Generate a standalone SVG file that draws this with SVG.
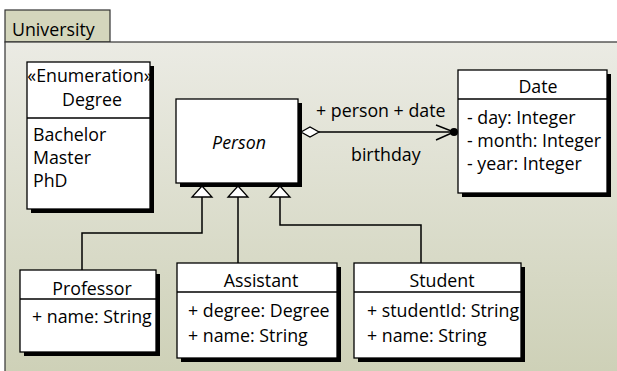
<svg xmlns="http://www.w3.org/2000/svg" width="617" height="371" viewBox="0 0 617 371">
<defs>
<linearGradient id="bg" x1="0" y1="0" x2="0" y2="1">
<stop offset="0" stop-color="#ebebe4"/>
<stop offset="1" stop-color="#cdd0b6"/>
</linearGradient>
</defs>
<style>
text{font-family:"Open Sans","Noto Sans","DejaVu Sans",sans-serif;font-size:17.8px;fill:#000}
.c{text-anchor:middle}
.box{fill:#fff;stroke:#000;stroke-width:1.3}
.sh{fill:#000}
.ln{fill:none;stroke:#000;stroke-width:1.5}
.dv{stroke:#000;stroke-width:1.3}
.tri{fill:#fff;stroke:#000;stroke-width:1.3}
</style>
<g id="package">
<rect x="5" y="10" width="105" height="32" fill="#d4d6bc" stroke="#333" stroke-width="1.2"/>
<rect x="5" y="42" width="620" height="340" fill="url(#bg)" stroke="#333" stroke-width="1.2"/>
<text x="12" y="36">University</text>
</g>
<g id="Degree">
<rect class="sh" x="31" y="66" width="123" height="147"/>
<rect class="box" x="27" y="62" width="123" height="147"/>
<line class="dv" x1="27" y1="118" x2="150" y2="118"/>
<text class="c" x="90" y="82">«Enumeration»</text>
<text class="c" x="92" y="106">Degree</text>
<text x="33" y="141">Bachelor</text>
<text x="33" y="164">Master</text>
<text x="33" y="187">PhD</text>
</g>
<g id="Person">
<rect class="sh" x="180" y="103" width="122" height="84"/>
<rect class="box" x="176" y="99" width="122" height="84"/>
<text class="c" x="239" y="149" font-style="italic">Person</text>
</g>
<g id="Date">
<rect class="sh" x="462" y="74" width="149" height="123"/>
<rect class="box" x="458" y="70" width="149" height="123"/>
<line class="dv" x1="458" y1="99" x2="607" y2="99"/>
<text class="c" x="538" y="93">Date</text>
<text x="467" y="124">- day: Integer</text>
<text x="467" y="147">- month: Integer</text>
<text x="467" y="170">- year: Integer</text>
</g>
<g id="Professor">
<rect class="sh" x="24" y="274" width="136" height="82"/>
<rect class="box" x="20" y="270" width="136" height="82"/>
<line class="dv" x1="20" y1="299" x2="156" y2="299"/>
<text class="c" x="92" y="295">Professor</text>
<text x="32" y="323">+ name: String</text>
</g>
<g id="Assistant">
<rect class="sh" x="181" y="267" width="160" height="95"/>
<rect class="box" x="177" y="263" width="160" height="95"/>
<line class="dv" x1="177" y1="292" x2="337" y2="292"/>
<text class="c" x="261" y="287">Assistant</text>
<text x="188" y="317">+ degree: Degree</text>
<text x="188" y="342">+ name: String</text>
</g>
<g id="Student">
<rect class="sh" x="358" y="267" width="167" height="95"/>
<rect class="box" x="354" y="263" width="167" height="95"/>
<line class="dv" x1="354" y1="292" x2="521" y2="292"/>
<text class="c" x="442" y="287">Student</text>
<text x="367" y="317">+ studentId: String</text>
<text x="367" y="342">+ name: String</text>
</g>
<g id="connectors">
<polyline class="ln" points="202,197 202,233 82,233 82,270"/>
<line class="ln" x1="238" y1="197" x2="238" y2="263"/>
<polyline class="ln" points="280,197 280,225 421,225 421,263"/>
<polygon class="tri" points="202,186 212,197 192,197"/>
<polygon class="tri" points="238,186 248,197 228,197"/>
<polygon class="tri" points="280,186 290,197 270,197"/>
<line class="ln" x1="319" y1="132" x2="454" y2="132"/>
<polygon class="tri" points="301,132 310,127 319,132 310,137"/>
<polyline class="ln" points="436,125 454,132 436,140"/>
<circle cx="454" cy="132" r="4" fill="#000"/>
<text x="316" y="117">+ person + date</text>
<text x="351" y="161">birthday</text>
</g>
</svg>
